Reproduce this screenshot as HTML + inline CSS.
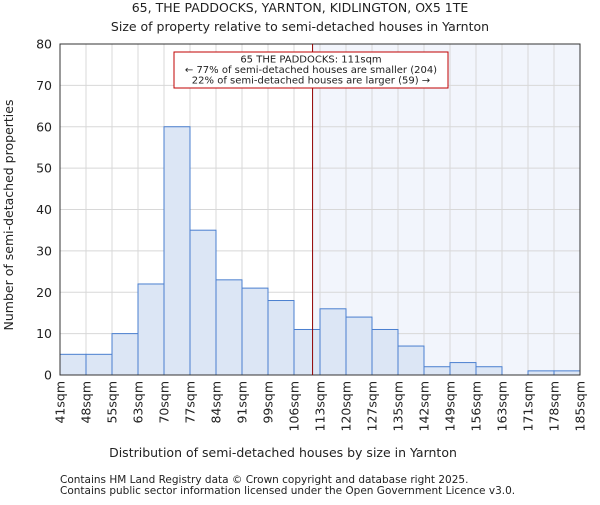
<!DOCTYPE html>
<html><head><meta charset="utf-8"><style>body{margin:0;background:#fff}text{font-family:"DejaVu Sans","Liberation Sans",sans-serif;fill:#222}</style></head>
<body>
<svg id="chart" width="600" height="500" xmlns="http://www.w3.org/2000/svg">
<text x="300" y="12" text-anchor="middle" font-size="12.5">65, THE PADDOCKS, YARNTON, KIDLINGTON, OX5 1TE</text>
<text x="300" y="31" text-anchor="middle" font-size="12.5">Size of property relative to semi-detached houses in Yarnton</text>
<g id="plot"></g>
<text x="283" y="457" text-anchor="middle" font-size="12.5">Distribution of semi-detached houses by size in Yarnton</text>
<text transform="translate(13,215) rotate(-90)" text-anchor="middle" font-size="12.5">Number of semi-detached properties</text>
<text x="60" y="483" font-size="10.5">Contains HM Land Registry data © Crown copyright and database right 2025.</text>
<text x="60" y="494" font-size="10.5">Contains public sector information licensed under the Open Government Licence v3.0.</text>
</svg>
<script>
const edgeLabels=["41sqm","48sqm","55sqm","63sqm","70sqm","77sqm","84sqm","91sqm","99sqm","106sqm","113sqm","120sqm","127sqm","135sqm","142sqm","149sqm","156sqm","163sqm","171sqm","178sqm","185sqm"];
const edgeValues=[41,48,55,63,70,77,84,91,99,106,113,120,127,135,142,149,156,163,171,178,185];
const counts=[5,5,10,22,60,35,23,21,18,11,16,14,11,7,2,3,2,0,1,1];
const yTicks=[0,10,20,30,40,50,60,70,80];
const propertySize=111;
const NS="http://www.w3.org/2000/svg";
const X0=60,X1=580,Y0=375,Y1=44,YMAX=80;
const g=document.getElementById('plot');
const bw=(X1-X0)/counts.length;
function xi(i){return X0+i*bw;}
function xv(v){for(let i=0;i<edgeValues.length-1;i++){if(v<=edgeValues[i+1]){return xi(i)+bw*(v-edgeValues[i])/(edgeValues[i+1]-edgeValues[i]);}}return X1;}
function y(v){return Y0-(Y0-Y1)*v/YMAX;}
function mk(t,a){const e=document.createElementNS(NS,t);for(const k in a)e.setAttribute(k,a[k]);g.appendChild(e);return e;}
const px=xv(propertySize);
let e=mk('rect',{x:px,y:Y1,width:X1-px,height:Y0-Y1,fill:'#f2f5fc'});


yTicks.forEach(t=>{let l=mk('line',{x1:X0,x2:X1,y1:y(t),y2:y(t),stroke:'#d8d8d8'});


let tx=mk('text',{x:X0-8,y:y(t)+4.5,'text-anchor':'end','font-size':'12.5'});tx.textContent=t;

});
edgeLabels.forEach((s,i)=>{let l=mk('line',{x1:xi(i),x2:xi(i),y1:Y1,y2:Y0,stroke:'#d8d8d8'});


let tx=mk('text',{transform:`translate(${xi(i)+4.5},${Y0+6}) rotate(-90)`,'text-anchor':'end','font-size':'12.5'});tx.textContent=s;

});
counts.forEach((c,i)=>{if(c<=0)return;let r=mk('rect',{x:xi(i),y:y(c),width:bw,height:Y0-y(c),fill:'#dce6f5',stroke:'#4a7fcf','stroke-width':1});

});
e=mk('rect',{x:X0,y:Y1,width:X1-X0,height:Y0-Y1,fill:'none',stroke:'#333'});


e=mk('line',{x1:px,x2:px,y1:Y1,y2:Y0,stroke:'#900000','stroke-width':1});


e=mk('rect',{x:174,y:52,width:274,height:36,fill:'#fff',stroke:'#c00000'});


["65 THE PADDOCKS: 111sqm","← 77% of semi-detached houses are smaller (204)","22% of semi-detached houses are larger (59) →"].forEach((s,i)=>{let t=mk('text',{x:311,y:62.5+i*10.5,'text-anchor':'middle','font-size':'10'});t.textContent=s;

});
</script>
</body></html>
